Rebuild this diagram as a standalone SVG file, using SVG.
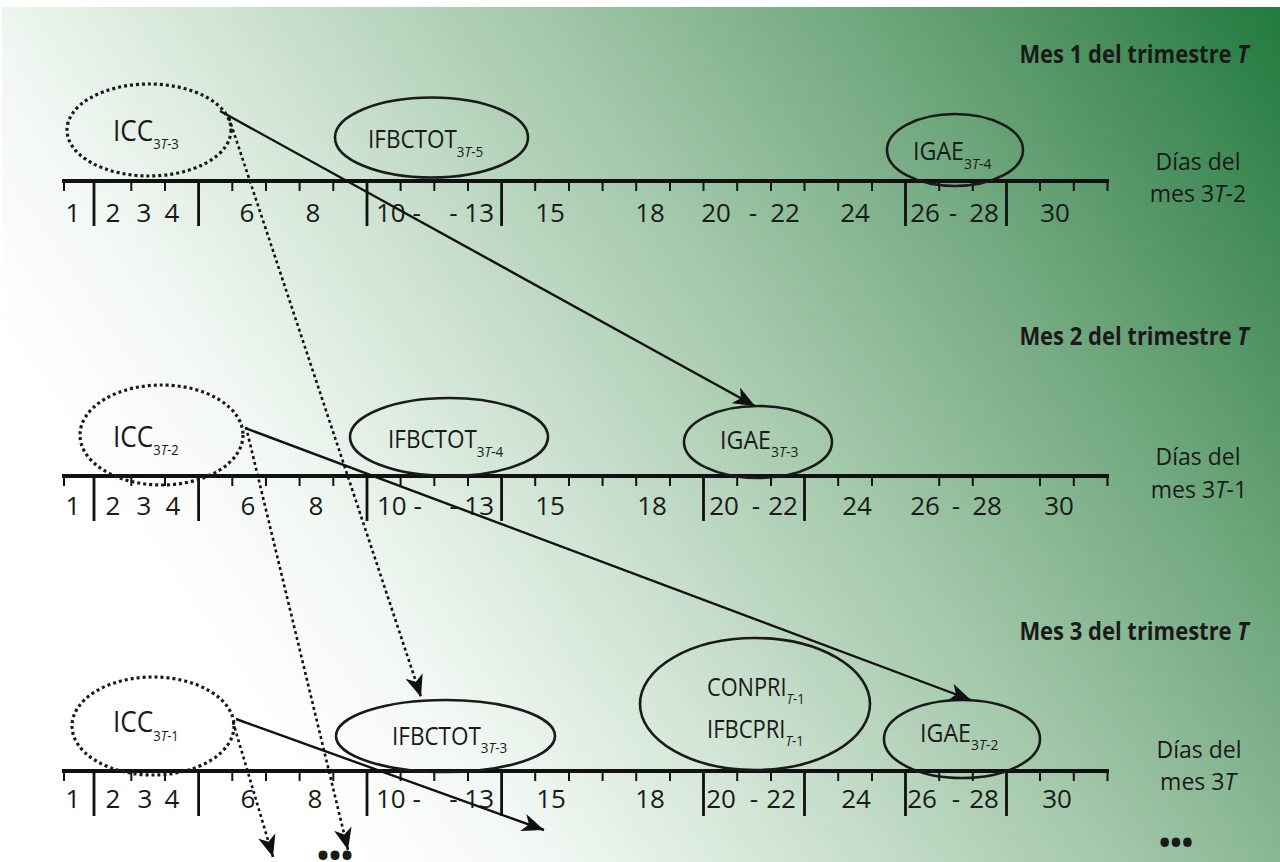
<svg xmlns="http://www.w3.org/2000/svg" width="1280" height="862" viewBox="0 0 1280 862">
<defs>
<linearGradient id="bg" gradientUnits="userSpaceOnUse" x1="250" y1="700" x2="1280" y2="0">
<stop offset="0" stop-color="#ffffff"/>
<stop offset="0.12" stop-color="#f3f8f4"/>
<stop offset="0.3" stop-color="#cfe3d3"/>
<stop offset="0.5" stop-color="#a3c8aa"/>
<stop offset="0.7" stop-color="#74aa81"/>
<stop offset="0.85" stop-color="#4d9160"/>
<stop offset="1" stop-color="#207a3d"/>
</linearGradient>
<marker id="ah" markerWidth="24" markerHeight="18" refX="22" refY="9" orient="auto" markerUnits="userSpaceOnUse">
<path d="M0,0 L22,9 L0,18 L6,9 z" fill="#111"/>
</marker>
</defs>
<style>
text{font-family:"Open Sans","Noto Sans",sans-serif;fill:#1a1a1a}
.num{font-size:26px;text-anchor:middle}
.nums{font-size:26px}
.lbl{font-size:25px}
.icc{font-size:30px}
.sub{font-size:15px}
.it{font-style:italic}
.ttl{font-size:25px;font-weight:bold;text-anchor:end}
.dias{font-size:23px;text-anchor:middle}
.axis{stroke:#111;stroke-width:4;fill:none}
.minor{stroke:#111;stroke-width:2;fill:none}
.major{stroke:#111;stroke-width:2.8;fill:none}
.solid{fill:none;stroke:#1a1a1a;stroke-width:2.6}
.dots{fill:none;stroke:#1a1a1a;stroke-width:3.2;stroke-dasharray:3 3}
.conn{fill:none;stroke:#111;stroke-width:2.4}
.dconn{fill:none;stroke:#111;stroke-width:2.6;stroke-dasharray:3 3}
.bul{font-size:30px;font-weight:bold}
</style>
<rect x="0" y="0" width="1280" height="862" fill="#ffffff"/>
<rect x="2" y="7" width="1278" height="855" fill="url(#bg)"/>

<g id="titles">
<text class="ttl" transform="translate(1249,63) scale(0.88,1)">Mes 1 del trimestre <tspan class="it">T</tspan></text>
<text class="ttl" transform="translate(1249,345) scale(0.88,1)">Mes 2 del trimestre <tspan class="it">T</tspan></text>
<text class="ttl" transform="translate(1249,640) scale(0.88,1)">Mes 3 del trimestre <tspan class="it">T</tspan></text>
</g>

<g id="timeline1">
<path class="axis" d="M62,181 H1109"/>
<path class="minor" d="M64,181v10 M131.3,181v10 M165,181v10 M232.3,181v10 M266,181v10 M299.6,181v10 M333.3,181v10 M400.6,181v10 M434.3,181v10 M468,181v10 M535.2,181v10 M569,181v10 M602.6,181v10 M636.2,181v10 M670,181v10 M703.5,181v10 M737.2,181v10 M771,181v10 M804.5,181v10 M838.2,181v10 M872,181v10 M939.2,181v10 M972.8,181v10 M1040,181v10 M1073.8,181v10 M1107.5,181v10"/>
<path class="major" d="M94,181v45 M198.6,181v45 M367,181v45 M501.6,181v45 M905.5,181v45 M1006.5,181v45"/>
<g class="num">
<text x="73" y="222">1</text><text x="113" y="222">2</text><text x="144" y="222">3</text><text x="172" y="222">4</text>
<text x="247" y="222">6</text><text x="313" y="222">8</text>
<text x="550" y="222">15</text><text x="650" y="222">18</text>
<text x="716" y="222">20</text><text x="753" y="222">-</text><text x="785" y="222">22</text>
<text x="855" y="222">24</text>
<text x="925" y="222">26</text><text x="953" y="222">-</text><text x="984" y="222">28</text>
<text x="1055" y="222">30</text>
</g>
<text class="nums" x="376" y="222">10 -</text>
<text class="nums" x="494" y="222" text-anchor="end">- 13</text>
<text class="dias" x="1198" y="170">Días del</text>
<text class="dias" x="1198" y="202">mes 3<tspan class="it">T</tspan>-2</text>
</g>

<g id="timeline2">
<path class="axis" d="M62,476 H1109"/>
<path class="minor" d="M64,476v10 M131.3,476v10 M165,476v10 M232.3,476v10 M266,476v10 M299.6,476v10 M333.3,476v10 M400.6,476v10 M434.3,476v10 M468,476v10 M535.2,476v10 M569,476v10 M602.6,476v10 M636.2,476v10 M670,476v10 M737.2,476v10 M771,476v10 M838.2,476v10 M872,476v10 M939.2,476v10 M972.8,476v10 M1040,476v10 M1073.8,476v10 M1107.5,476v10"/>
<path class="major" d="M94,476v45 M198.6,476v45 M367,476v45 M501.6,476v45 M703.5,476v45 M804.5,476v45"/>
<g class="num">
<text x="73" y="515">1</text><text x="113" y="515">2</text><text x="144" y="515">3</text><text x="173" y="515">4</text>
<text x="248" y="515">6</text><text x="316" y="515">8</text>
<text x="550" y="515">15</text><text x="652" y="515">18</text>
<text x="724" y="515">20</text><text x="756" y="515">-</text><text x="783" y="515">22</text>
<text x="857" y="515">24</text>
<text x="925" y="515">26</text><text x="956" y="515">-</text><text x="987" y="515">28</text>
<text x="1059" y="515">30</text>
</g>
<text class="nums" x="377" y="515">10 -</text>
<text class="nums" x="494" y="515" text-anchor="end">- 13</text>
<text class="dias" x="1198" y="465">Días del</text>
<text class="dias" x="1199" y="498">mes 3<tspan class="it">T</tspan>-1</text>
</g>

<g id="timeline3">
<path class="axis" d="M62,771 H1109"/>
<path class="minor" d="M64,771v10 M131.3,771v10 M165,771v10 M232.3,771v10 M266,771v10 M299.6,771v10 M333.3,771v10 M400.6,771v10 M434.3,771v10 M468,771v10 M535.2,771v10 M569,771v10 M602.6,771v10 M636.2,771v10 M670,771v10 M737.2,771v10 M771,771v10 M838.2,771v10 M872,771v10 M939.2,771v10 M972.8,771v10 M1040,771v10 M1073.8,771v10 M1107.5,771v10"/>
<path class="major" d="M94,771v45 M198.6,771v45 M367,771v45 M501.6,771v45 M703.5,771v45 M804.5,771v45 M905.5,771v45 M1006.5,771v45"/>
<g class="num">
<text x="73" y="808">1</text><text x="113" y="808">2</text><text x="145" y="808">3</text><text x="172" y="808">4</text>
<text x="248" y="808">6</text><text x="315" y="808">8</text>
<text x="551" y="808">15</text><text x="650" y="808">18</text>
<text x="721" y="808">20</text><text x="754" y="808">-</text><text x="781" y="808">22</text>
<text x="856" y="808">24</text>
<text x="922" y="808">26</text><text x="956" y="808">-</text><text x="984" y="808">28</text>
<text x="1057" y="808">30</text>
</g>
<text class="nums" x="376" y="808">10 -</text>
<text class="nums" x="494" y="808" text-anchor="end">- 13</text>
<text class="dias" x="1199" y="758">Días del</text>
<text class="dias" x="1198" y="790">mes 3<tspan class="it">T</tspan></text>
</g>

<g id="icc-3t-3">
<ellipse class="dots" cx="149" cy="130" rx="82" ry="46"/>
<text class="icc" transform="translate(113,141) scale(0.87,1)">ICC<tspan class="sub" dy="8">3<tspan class="it">T</tspan>-3</tspan></text>
</g>
<g id="ifbctot-3t-5">
<ellipse class="solid" cx="431.5" cy="137.5" rx="96.5" ry="40"/>
<text class="lbl" transform="translate(368,148) scale(0.9,1)">IFBCTOT<tspan class="sub" dy="9">3<tspan class="it">T</tspan>-5</tspan></text>
</g>
<g id="igae-3t-4">
<ellipse class="solid" cx="955" cy="150" rx="68" ry="36"/>
<text class="lbl" transform="translate(913,160) scale(0.93,1)">IGAE<tspan class="sub" dy="9">3<tspan class="it">T</tspan>-4</tspan></text>
</g>

<g id="icc-3t-2">
<ellipse class="dots" cx="161.5" cy="435" rx="81.5" ry="50"/>
<text class="icc" transform="translate(113,447) scale(0.87,1)">ICC<tspan class="sub" dy="8">3<tspan class="it">T</tspan>-2</tspan></text>
</g>
<g id="ifbctot-3t-4">
<ellipse class="solid" cx="449" cy="437" rx="99" ry="39"/>
<text class="lbl" transform="translate(388,448) scale(0.9,1)">IFBCTOT<tspan class="sub" dy="9">3<tspan class="it">T</tspan>-4</tspan></text>
</g>
<g id="igae-3t-3">
<ellipse class="solid" cx="758" cy="442" rx="74" ry="36"/>
<text class="lbl" transform="translate(720,449) scale(0.93,1)">IGAE<tspan class="sub" dy="8">3<tspan class="it">T</tspan>-3</tspan></text>
</g>

<g id="icc-3t-1">
<ellipse class="dots" cx="153" cy="726" rx="81" ry="49"/>
<text class="icc" transform="translate(113,732) scale(0.87,1)">ICC<tspan class="sub" dy="9">3<tspan class="it">T</tspan>-1</tspan></text>
</g>
<g id="ifbctot-3t-3">
<ellipse class="solid" cx="445.5" cy="736" rx="109.5" ry="36"/>
<text class="lbl" transform="translate(392,745) scale(0.9,1)">IFBCTOT<tspan class="sub" dy="8">3<tspan class="it">T</tspan>-3</tspan></text>
</g>
<g id="conpri-ifbcpri">
<ellipse class="solid" cx="755" cy="704" rx="115" ry="66"/>
<text class="lbl" transform="translate(707,696) scale(0.87,1)">CONPRI<tspan class="sub" dy="8"><tspan class="it">T</tspan>-1</tspan></text>
<text class="lbl" transform="translate(707,738) scale(0.88,1)">IFBCPRI<tspan class="sub" dy="8"><tspan class="it">T</tspan>-1</tspan></text>
</g>
<g id="igae-3t-2">
<ellipse class="solid" cx="962" cy="739" rx="78" ry="39"/>
<text class="lbl" transform="translate(920,742) scale(0.93,1)">IGAE<tspan class="sub" dy="8">3<tspan class="it">T</tspan>-2</tspan></text>
</g>

<g id="connectors">
<line class="conn" x1="220" y1="111" x2="755" y2="406" marker-end="url(#ah)"/>
<line class="conn" x1="245" y1="428" x2="971" y2="700" marker-end="url(#ah)"/>
<line class="conn" x1="236" y1="719" x2="544" y2="830" marker-end="url(#ah)"/>
<line class="dconn" x1="229" y1="118" x2="421" y2="697" marker-end="url(#ah)"/>
<line class="dconn" x1="246" y1="427" x2="348" y2="850" marker-end="url(#ah)"/>
<line class="dconn" x1="233" y1="722" x2="273" y2="857" marker-end="url(#ah)"/>
</g>

<g id="ellipsis">
<text class="bul" x="1176" y="853" text-anchor="middle" textLength="34" lengthAdjust="spacingAndGlyphs">•••</text>
<text class="bul" x="335" y="866" text-anchor="middle" textLength="36" lengthAdjust="spacingAndGlyphs">•••</text>
</g>
</svg>
